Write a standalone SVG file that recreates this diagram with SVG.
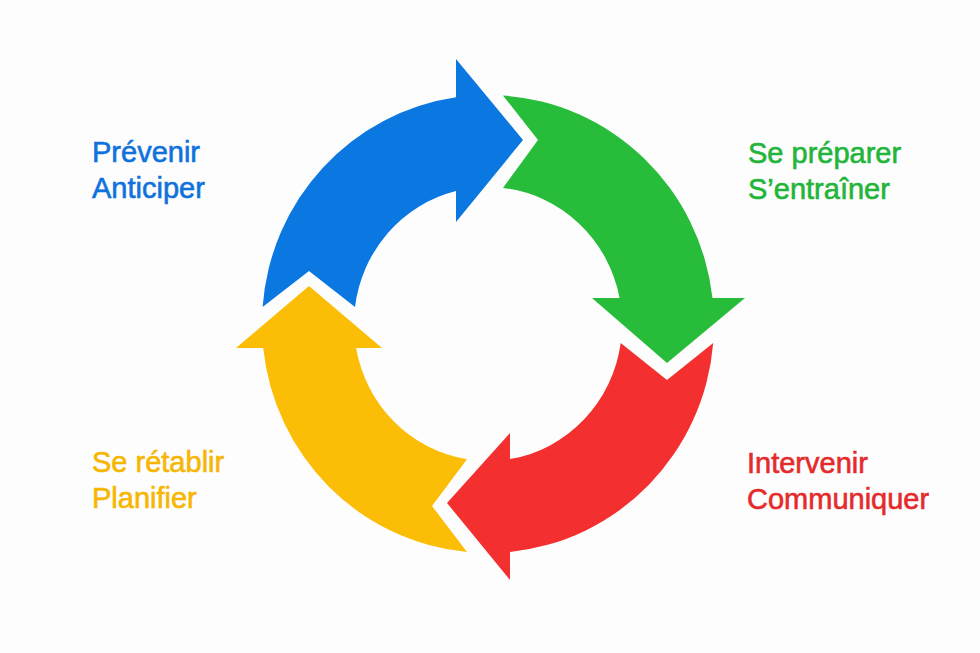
<svg xmlns="http://www.w3.org/2000/svg" width="980" height="653" viewBox="0 0 980 653">
<style>
.lbl{font-family:"Liberation Sans",Arial,sans-serif;font-size:29px;stroke-width:0.6px}
.blue{fill:#0b78e2}
.green{fill:#28bc3b}
.red{fill:#f42f2f}
.yellow{fill:#fcbd06}
.tblue{fill:#0f72dc;stroke:#0f72dc}
.tgreen{fill:#22b53a;stroke:#22b53a}
.tred{fill:#e52a2c;stroke:#e52a2c}
.tyellow{fill:#f7b602;stroke:#f7b602}
</style>
<rect width="980" height="653" fill="#fdfdfd"/>
<g id="connectors">
<path id="arrow-blue" class="blue" d="M 262.6,307 A 226 229 0 0 1 456,97.3 L 456,59 L 523,140 L 456,222 L 456,191 A 134 137 0 0 0 355,307 L 309,271 Z"/>
<path id="arrow-green" class="green" d="M 503,95.5 A 226 229 0 0 1 712.5,298 L 745,298 L 667,363 L 592,298 L 619.6,298 A 134 137 0 0 0 503,187.9 L 538,140 Z"/>
<path id="arrow-red" class="red" d="M 713.2,343 A 226 229 0 0 1 510,551.9 L 510,580 L 447,503 L 510,433 L 510,459.1 A 134 137 0 0 0 620.7,343 L 667,380 Z"/>
<path id="arrow-yellow" class="yellow" d="M 467,552 A 226 229 0 0 1 263.2,348 L 236,348 L 309,286 L 382,348 L 356.1,348 A 134 137 0 0 0 467,459.3 L 432,506 Z"/>
</g>
<g id="node-prevenir">
<text class="lbl tblue" x="92" y="162">Prévenir</text>
<text class="lbl tblue" x="92" y="198">Anticiper</text>
</g>
<g id="node-preparer">
<text class="lbl tgreen" x="748" y="163">Se préparer</text>
<text class="lbl tgreen" x="748" y="199">S’entraîner</text>
</g>
<g id="node-intervenir">
<text class="lbl tred" x="747" y="473">Intervenir</text>
<text class="lbl tred" x="747" y="509">Communiquer</text>
</g>
<g id="node-retablir">
<text class="lbl tyellow" x="92" y="472">Se rétablir</text>
<text class="lbl tyellow" x="92" y="508">Planifier</text>
</g>
</svg>
